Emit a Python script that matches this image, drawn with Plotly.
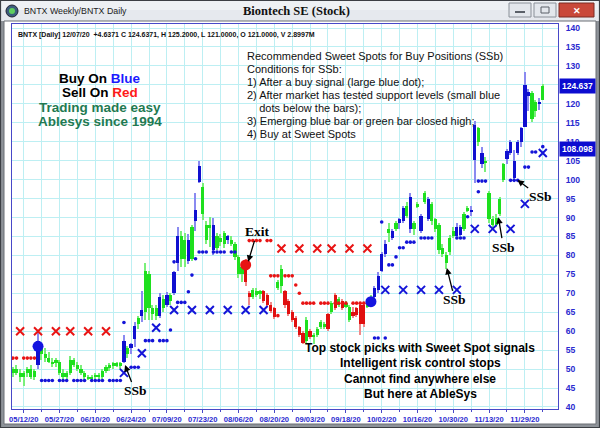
import plotly.graph_objects as go

# ---------------- data ----------------
bar_index = list(range(1, 150))
bar_open = [49, 50, 49, 48, 49, 50, 48, 51, 56, 54,
            53, 52, 51.5, 52, 49, 48, 49, 52.5, 51, 50,
            49, 48, 47.5, 48, 48.5, 48, 49.5, 50.5, 51, 51.5,
            51, 52, 54, 55.5, 58, 62, 64, 65, 75, 66,
            64, 64, 68.5, 67, 69.5, 70, 78, 85, 79, 84,
            79, 89, 99.5, 98, 88, 87.2, 88, 82, 84.5, 83,
            85, 84, 83, 79.5, 75, 78, 70, 69, 70.5, 70,
            70.5, 69.5, 67, 66, 71.5, 72, 70.5, 68, 65, 63.5,
            61, 59.5, 57.5, 60, 58.5, 59, 61, 62, 60.5, 65,
            69.5, 67, 68, 66.5, 66.5, 65, 66, 67, 62, 66.5,
            67.5, 69, 71, 76, 80.5, 86, 86.5, 87, 88.5, 89,
            90.5, 95.5, 87, 93, 90.5, 94, 95, 93.5, 89.5, 88,
            82, 80, 81, 85, 87.5, 85.5, 87, 91.8, 92, 105.2,
            113.5, 107, 105, 96.5, 89.5, 88, 91, 100, 105.5, 107,
            105, 107, 110, 114, 123, 122.8, 118, 120.5, 121]
bar_high = [50.5, 51, 50, 49.5, 50.5, 51, 50, 60, 57, 55.5,
            54.5, 53, 53, 52.5, 50, 49.5, 53.5, 53, 52, 51,
            49.5, 48.5, 48.5, 49, 49, 50, 51, 51.5, 52, 52,
            52, 59, 56, 57, 62.5, 64, 70.5, 78, 76, 67,
            67, 70, 69.5, 70.3, 70, 76, 87.5, 86.4, 86, 85.7,
            88, 96.5, 105, 99, 89, 90.1, 90, 86, 85.7, 86.4,
            85.5, 85, 83.5, 80, 77.5, 79, 70.5, 71.5, 71.5, 71,
            71, 70, 67.8, 66.5, 73.5, 77.5, 71, 68.5, 65.5, 64,
            61.5, 60, 63.7, 60.5, 59.5, 61, 63, 62.5, 64.7, 68,
            70, 69, 68.5, 68, 67, 66.5, 66.4, 67.4, 67.5, 67.5,
            69.5, 72, 75.5, 81, 84, 88.5, 87, 89, 90, 93,
            94, 96.5, 89, 94, 91, 97, 95.5, 94, 90, 88.5,
            83, 81, 85.5, 87.5, 88.5, 88, 91.5, 93, 93, 115.5,
            114, 108.5, 106, 97, 90.5, 91, 95.5, 104.5, 108, 110.5,
            107.8, 110.5, 114, 128.4, 124, 123.5, 121, 121.5, 125.2]
bar_low = [48, 48.5, 46.5, 45.5, 48, 47.5, 47, 50, 52.5, 52,
           51.5, 50.5, 50.5, 48.5, 47, 47, 48.5, 50.5, 49.5, 48.5,
           47.5, 47, 46.8, 47.5, 47.5, 47.5, 49, 49.5, 50, 50.5,
           50, 51.5, 53, 54, 55.8, 60.5, 62.5, 63, 63, 63,
           63, 63.5, 65, 66.5, 67, 69.5, 76, 77, 77, 77.7,
           78.5, 86.5, 99, 89.4, 83, 82.2, 80, 81.5, 82.5, 82,
           83, 82.5, 78.7, 74, 73, 72, 67, 68.5, 69, 68.5,
           67.5, 66.5, 64.8, 63.3, 71, 70, 66, 64, 62.5, 60.5,
           58.5, 56.5, 57, 58, 56.5, 58.5, 60.5, 60.5, 60, 64.5,
           65.5, 66.5, 65.5, 66, 62.5, 63.5, 63.8, 59, 61.2, 66,
           67, 68.5, 70, 75.5, 79.5, 83.5, 84, 86.5, 87, 88.5,
           90, 86, 85.5, 92.5, 86, 93.5, 89, 88, 86.3, 80.5,
           79.5, 76.5, 80, 84.5, 84.5, 85, 86.5, 91.5, 90.5, 99,
           109, 103, 102, 88.5, 87, 87.5, 90.5, 99.5, 104, 106.5,
           100, 106.5, 108.6, 113.9, 118, 115.2, 116.5, 118.5, 121]
bar_close = [50, 49, 48, 49, 50, 48, 49.5, 57.5, 54, 53,
             52, 51.5, 52.5, 49, 48, 49, 52.5, 51, 50, 49,
             48, 47.5, 48, 48.5, 48, 49.5, 50.5, 51, 51.5, 51,
             51.5, 57.5, 55.5, 56.5, 61.5, 63.5, 65.5, 76, 66, 64.5,
             66, 69, 66, 69.5, 68, 75.5, 85, 79, 84, 78.5,
             87.5, 92, 103.5, 91, 84, 87.9, 81.5, 85, 83.5, 86,
             84, 83, 79.5, 75, 77, 73, 69, 71, 69.5, 70.5,
             68, 67, 65.2, 63.8, 73, 76.5, 67, 64.5, 63, 61,
             59, 57, 63, 58.5, 59, 60.5, 62.5, 61, 64.5, 67.5,
             66, 68.5, 66, 67.5, 63, 64, 64.2, 62, 67, 67.2,
             69, 71.5, 74.5, 80.5, 83, 87, 84.5, 88.5, 89.5, 92.5,
             93, 87, 88.5, 93.5, 86.5, 96.5, 89.5, 89, 87, 81.5,
             80.5, 78, 84.5, 86.5, 85, 87.5, 91, 92.5, 91.5, 114.4,
             110, 104, 104.5, 89.5, 88, 90, 95, 104, 107.5, 110,
             100.5, 110, 113.5, 125, 122, 116, 120.5, 120, 124.637]
bar_color = (list("gggggggb") + list("g" * 23) +            # 1-31
             list("bgbbgbggggbgbgbbggbgbbgggbgggbg") +       # 32-62
             list("ggg") + list("rrggg") + list("rrrrggrrrrrrgrggggrgrgrggrrrrgg") +  # 63-100
             list("bbbbgbgbbgbggbgbgggggggbbggbbgb") +       # 101-131
             list("gggggg") + list("bbbbbbbggbgb"))          # 132-149

label_index = [4, 14, 24, 34, 44, 54, 64, 74, 84, 94, 104, 114, 124, 134, 144]
label_text = ["05/12/20", "05/27/20", "06/10/20", "06/24/20", "07/09/20",
              "07/23/20", "08/06/20", "08/20/20", "09/03/20", "09/18/20",
              "10/02/20", "10/16/20", "10/30/20", "11/13/20", "11/29/20"]

# weekly stop markers (x)
red_x_index = [3, 8, 13, 17, 22, 27, 76, 81, 86, 90, 95, 100]
red_x_price = [60, 60, 60, 60, 60, 60, 81.8, 81.8, 81.8, 81.8, 81.8, 81.8]
blue_x_index = [32, 37, 41, 46, 51, 56, 61, 66, 71, 105, 110, 115, 120, 125,
                130, 135, 140, 144, 149]
blue_x_price = [49, 54.2, 60.9, 65.6, 65.6, 65.6, 65.6, 65.6, 65.6, 70.9, 70.9,
                70.9, 70.9, 70.9, 87, 87, 87, 93.6, 107]

# small support (blue) and resistance (red) dots
blue_dot_index = [9, 10, 11, 12, 14, 15, 16, 18, 19, 20, 21, 23, 24, 25, 26,
                  28, 29, 30, 31, 32, 34, 35, 36, 38, 39, 40, 42, 43, 44, 45,
                  46, 47, 48, 49, 50, 51, 52, 53, 54, 55, 57, 58, 59, 60, 62, 63,
                  102, 103, 105, 104, 106, 107, 108, 109, 110, 111, 112, 113,
                  115, 116, 117, 118, 125, 126, 127, 128, 131, 131, 132, 133,
                  140, 141, 142, 144, 145, 146, 147, 149]
blue_dot_price = [47, 47, 47, 47, 47, 47, 47, 47, 47, 47, 47, 47, 47, 47, 47,
                  47, 47, 47, 47, 62.3, 50.5, 50.5, 50.5, 57.5, 57.5, 57.5, 57.5,
                  57.5, 57.5, 60.3, 78.3, 67.6, 67.6, 67.6, 70.4, 74.8, 79.1,
                  80.9, 80.9, 80.9, 80.9, 80.9, 80.9, 80.9, 80.9, 80.9,
                  58.2, 58.2, 58.2, 88.8, 77.5, 77.5, 79.6, 82, 82, 83.5, 83.5,
                  83.5, 84.6, 84.6, 84.6, 84.6, 84.6, 84.6, 84.6, 90.2, 96.8,
                  99.6, 99.6, 99.6, 99.8, 99.8, 99.8, 103.3, 103.3, 107.3, 107.3,
                  108.7]
red_dot_index = [1, 2, 4, 5, 6, 7, 67, 68, 69, 70, 72, 73, 73, 74, 75, 77, 78,
                 79, 75, 80, 81, 82, 83, 84, 85, 87, 88, 89, 91, 92, 93, 94,
                 96, 97, 98, 99, 100]
red_dot_price = [52.9, 52.9, 52.9, 52.9, 52.9, 52.9, 83.9, 83.9, 83.9, 83.9,
                 83.9, 83.9, 74.6, 74.6, 74.6, 74.6, 74.6, 74.6, 64.1, 72.2,
                 70, 67.4, 67.4, 67.4, 67.4, 67.4, 67.4, 67.4, 67.4, 67.4, 67.4,
                 67.4, 67.4, 67.4, 67.4, 67.4, 67.4]

big_blue_index = [8, 101]
big_blue_price = [56, 67.8]
big_red_index = [66]
big_red_price = [77.5]

# SSb / Exit callouts: (index, price, dx px, dy px)
ssb_index = [32.3, 122.2, 136.6, 141.9]
ssb_price = [51.1, 76.7, 90.1, 99.9]
ssb_dx = [10, 8, 5, 23]
ssb_dy = [26, 32, 30, 17]
exit_point = (66.7, 78.3)

last_price = 124.637
stop_price = 108.098

header = ("BNTX [Daily] 12/07/20  +4.6371 C 124.6371, H 125.2000, "
          "L 121.0000, O 121.0000, V 2.8997M")
rules = ["Recommended Sweet Spots for Buy Positions (SSb)",
         "Conditions for SSb:",
         "1) After a buy signal (large blue dot);",
         "2) After market has tested support levels (small blue",
         "    dots below the bars);",
         "3) Emerging blue bar or green bar closed high;",
         "4) Buy at Sweet Spots"]
promo = ["Top stock picks with Sweet Spot signals",
         "Intelligent risk control stops",
         "Cannot find anywhere else",
         "But here at AbleSys"]

# ---------------- styling ----------------
BODY = {"b": "#1010d0", "g": "#1ee01e", "r": "#e01010"}
WICK = {"b": "#8a8af0", "g": "#7af07a", "r": "#f08a8a"}
GRID = "#bdeff3"
AXIS = "#4848c8"
TICK = "#2a2ad0"
SANS = "Liberation Sans, Arial, sans-serif"
SERIF = "Liberation Serif, Times New Roman, serif"

L, T, W, H = 12, 24, 546, 385   # plot area in px
def PX(px):
    return (px - L) / W
def PY(py):
    return (T + H - py) / H

fig = go.Figure()

wick_len = [h - l for h, l in zip(bar_high, bar_low)]
body_base = [min(o, c) for o, c in zip(bar_open, bar_close)]
body_len = [max(abs(c - o), 0.35) for o, c in zip(bar_open, bar_close)]

fig.add_trace(go.Bar(x=bar_index, y=wick_len, base=bar_low, width=0.36,
                     marker=dict(color=[WICK[c] for c in bar_color], line=dict(width=0)),
                     hoverinfo="skip"))
fig.add_trace(go.Bar(x=bar_index, y=body_len, base=body_base, width=0.9,
                     marker=dict(color=[BODY[c] for c in bar_color], line=dict(width=0)),
                     hoverinfo="skip"))

fig.add_trace(go.Scatter(x=blue_dot_index, y=blue_dot_price, mode="markers",
                         marker=dict(symbol="circle", size=3.6, color="#1414d8"),
                         hoverinfo="skip"))
fig.add_trace(go.Scatter(x=red_dot_index, y=red_dot_price, mode="markers",
                         marker=dict(symbol="circle", size=3.6, color="#e81414"),
                         hoverinfo="skip"))
fig.add_trace(go.Scatter(x=red_x_index, y=red_x_price, mode="markers",
                         marker=dict(symbol="x-thin", size=8,
                                     line=dict(width=2, color="#e81414")),
                         hoverinfo="skip"))
fig.add_trace(go.Scatter(x=blue_x_index, y=blue_x_price, mode="markers",
                         marker=dict(symbol="x-thin", size=8,
                                     line=dict(width=2, color="#1414d8")),
                         hoverinfo="skip"))
fig.add_trace(go.Scatter(x=big_blue_index, y=big_blue_price, mode="markers",
                         marker=dict(symbol="circle", size=11, color="#1414e0"),
                         hoverinfo="skip"))
fig.add_trace(go.Scatter(x=big_red_index, y=big_red_price, mode="markers",
                         marker=dict(symbol="circle", size=11, color="#e81414"),
                         hoverinfo="skip"))

ann = []
# header
ann.append(dict(xref="paper", yref="paper", x=PX(16), y=PY(35), xanchor="left",
                yanchor="middle", text=header, showarrow=False,
                font=dict(family=SANS, size=7, color="#111", weight="bold")))
# rules block
for k, line in enumerate(rules):
    ann.append(dict(xref="paper", yref="paper", x=PX(245), y=PY(56 + 13 * k),
                    xanchor="left", yanchor="middle", text=line.replace("  ", "&nbsp;&nbsp;"),
                    showarrow=False, font=dict(family=SANS, size=11, color="#111")))
# left promo
left_lines = ["Buy On <span style='color:#1a1aff'>Blue</span>",
              "Sell On <span style='color:#ff1a1a'>Red</span>",
              "<span style='color:#1f7a52'>Trading made easy</span>",
              "<span style='color:#1f7a52'>Ablesys since 1994</span>"]
for k, line in enumerate(left_lines):
    ann.append(dict(xref="paper", yref="paper", x=PX(100), y=PY(78.3 + 14.5 * k),
                    xanchor="center", yanchor="middle", text=line, showarrow=False,
                    font=dict(family=SANS, size=13.5, color="#000", weight="bold")))
# bottom promo
for k, line in enumerate(promo):
    ann.append(dict(xref="paper", yref="paper", x=PX(420), y=PY(348 + 15.3 * k),
                    xanchor="center", yanchor="middle", text=line, showarrow=False,
                    font=dict(family=SANS, size=12, color="#000", weight="bold")))
# SSb callouts
for xi, yp, dx, dy in zip(ssb_index, ssb_price, ssb_dx, ssb_dy):
    ann.append(dict(x=xi, y=yp, ax=dx, ay=dy, text="SSb", showarrow=True,
                    arrowhead=2, arrowsize=1, arrowwidth=1.3, arrowcolor="#000",
                    font=dict(family=SERIF, size=13.5, color="#000", weight="bold")))
ann.append(dict(x=exit_point[0], y=exit_point[1], ax=9, ay=-30, text="Exit",
                showarrow=True, arrowhead=2, arrowsize=1, arrowwidth=1.3,
                arrowcolor="#000",
                font=dict(family=SERIF, size=13.5, color="#000", weight="bold")))
# price boxes
for val in (stop_price, last_price):
    ann.append(dict(xref="paper", yref="y", x=PX(559), y=val, xanchor="left",
                    yanchor="middle", text=f"{val:.3f}", showarrow=False,
                    bgcolor="#0c0cd0", borderpad=2,
                    font=dict(family=SANS, size=8.5, color="#fff", weight="bold")))
# window title texts
ann.append(dict(xref="paper", yref="paper", x=PX(296), y=PY(11.5), xanchor="center",
                yanchor="middle", text="Biontech SE (Stock)", showarrow=False,
                font=dict(family=SERIF, size=12.5, color="#111", weight="bold")))
ann.append(dict(xref="paper", yref="paper", x=PX(22), y=PY(11), xanchor="left",
                yanchor="middle", text="BNTX Weekly/BNTX Daily", showarrow=False,
                font=dict(family=SANS, size=8.8, color="#222")))
ann.append(dict(xref="paper", yref="paper", x=PX(576.5), y=PY(10.5), xanchor="center",
                yanchor="middle", text="✕", showarrow=False,
                font=dict(family=SANS, size=9, color="#fff", weight="bold")))

shapes = []
def rect(x0, y0, x1, y1, fill=None, line=None, lw=0):
    shapes.append(dict(type="rect", xref="paper", yref="paper",
                       x0=PX(x0), x1=PX(x1), y0=PY(y1), y1=PY(y0),
                       fillcolor=fill if fill else "rgba(0,0,0,0)",
                       line=dict(color=line if line else "rgba(0,0,0,0)", width=lw),
                       layer="above"))
rect(0, 0, 600, 21, fill="#e6e9ee")
rect(0, 0, 600, 10, fill="#eef1f4")
rect(0, 21, 4, 428, fill="#8e9399")
rect(596, 21, 600, 428, fill="#8e9399")
rect(0, 424, 600, 428, fill="#8e9399")
rect(4, 21, 596, 424, line="#6a6e74", lw=1)
rect(0.5, 0.5, 599.5, 427.5, line="#3c3f44", lw=1.2)
rect(509, 3, 531, 17, fill="#e3e7ec", line="#8a9098", lw=1)
rect(534, 3, 556, 17, fill="#e3e7ec", line="#8a9098", lw=1)
rect(559, 3, 594, 17, fill="#c9483a", line="#7a2a22", lw=1)
rect(515, 11, 525, 13, fill="#5a6068")
rect(541, 7, 549, 13, line="#5a6068", lw=1)
shapes.append(dict(type="circle", xref="paper", yref="paper",
                   x0=PX(6), x1=PX(18), y0=PY(17), y1=PY(5),
                   fillcolor="#3b5d7c", line=dict(color="#223", width=1), layer="above"))
shapes.append(dict(type="circle", xref="paper", yref="paper",
                   x0=PX(9), x1=PX(15), y0=PY(14), y1=PY(8),
                   fillcolor="#5fcf5f", line=dict(width=0), layer="above"))

fig.update_layout(
    width=600, height=428,
    margin=dict(l=L, r=600 - L - W, t=T, b=428 - T - H, autoexpand=False),
    paper_bgcolor="white", plot_bgcolor="white",
    showlegend=False, barmode="overlay", bargap=0,
    annotations=ann, shapes=shapes,
    xaxis=dict(range=[0.73, 153.25], tickmode="array", tickvals=label_index,
               ticktext=label_text, showgrid=True, gridcolor=GRID, gridwidth=1,
               minor=dict(dtick=5, tick0=4, showgrid=True, gridcolor=GRID,
                          ticks="outside", ticklen=2, tickcolor=AXIS),
               ticks="outside", ticklen=3, tickcolor=AXIS,
               tickfont=dict(family=SANS, size=7.6, color=TICK, weight="bold"),
               showline=True, linecolor=AXIS, linewidth=1, mirror=True,
               zeroline=False, fixedrange=True, automargin=False),
    yaxis=dict(range=[39.47, 141.06], side="right", tick0=40, dtick=5,
               showgrid=True, gridcolor=GRID, gridwidth=1,
               ticks="outside", ticklen=5, tickcolor="rgba(0,0,0,0)",
               tickfont=dict(family=SANS, size=8.6, color=TICK, weight="bold"),
               showline=True, linecolor=AXIS, linewidth=1, mirror=True,
               zeroline=False, fixedrange=True, automargin=False),
)

post = ("document.documentElement.style.margin='0';"
        "document.body.style.margin='0';document.body.style.padding='0';"
        "document.documentElement.style.overflow='hidden';"
        "document.body.style.overflow='hidden';")
fig.write_html("out.html", config={"displayModeBar": False}, post_script=post)
